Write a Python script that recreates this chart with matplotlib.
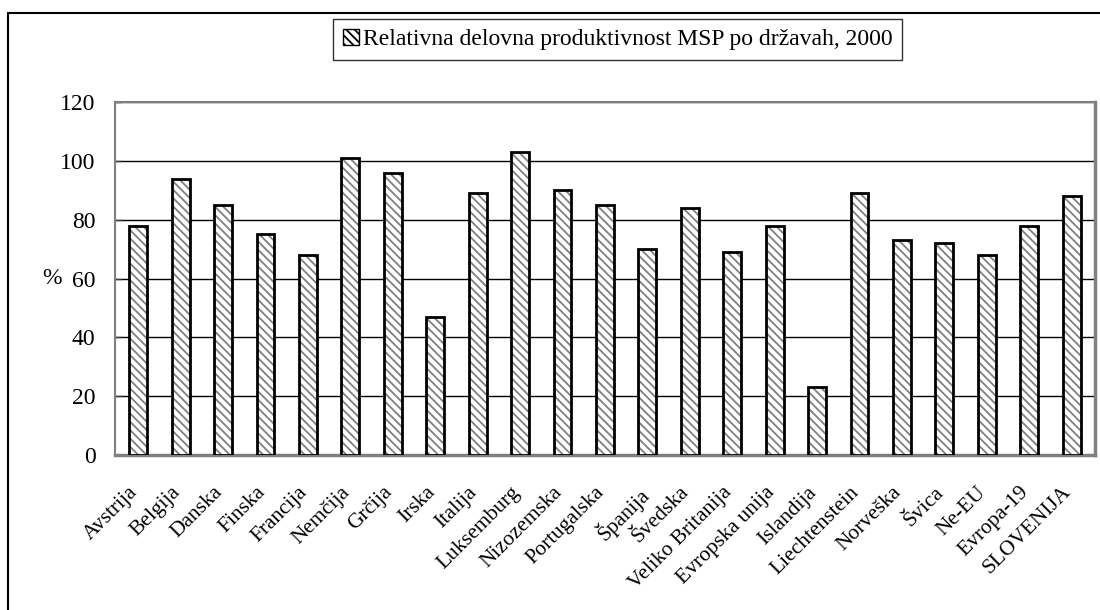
import matplotlib
matplotlib.use('Agg')
import matplotlib.pyplot as plt
import matplotlib.transforms as mtransforms
from matplotlib.patches import Patch, Rectangle

plt.rcParams['font.family'] = ['Liberation Serif', 'DejaVu Serif']
plt.rcParams['hatch.linewidth'] = 1.3
plt.rcParams['hatch.color'] = '#808080'

# Podatki
drzave = ['Avstrija', 'Belgija', 'Danska', 'Finska', 'Francija', 'Nemčija', 'Grčija',
          'Irska', 'Italija', 'Luksemburg', 'Nizozemska', 'Portugalska', 'Španija',
          'Švedska', 'Veliko Britanija', 'Evropska unija', 'Islandija', 'Liechtenstein',
          'Norveška', 'Švica', 'Ne-EU', 'Evropa-19', 'SLOVENIJA']
produktivnost = [78, 94, 85, 75, 68, 101, 96, 47, 89, 103, 90, 85, 70, 84, 69, 78,
                 23, 89, 73, 72, 68, 78, 88]
y_ticks = [0, 20, 40, 60, 80, 100, 120]
naslov = 'Relativna delovna produktivnost MSP po državah, 2000'

fig = plt.figure(figsize=(11, 6.1), dpi=100)
ax = fig.add_axes([0.1045, 0.254, 0.8909, 0.5787])

x = range(len(drzave))
# polnilo s srafuro (sivo), nato crn rob
ax.bar(x, produktivnost, width=0.42, color='white', edgecolor='#808080',
       hatch='\\\\\\\\', linewidth=0, zorder=3)
ax.bar(x, produktivnost, width=0.42, fill=False, edgecolor='black',
       linewidth=2, zorder=4)

ax.set_xlim(-0.55, len(drzave) - 0.45)
ax.set_ylim(0, 120)
ax.set_yticks(y_ticks)
ax.yaxis.grid(True, color='black', linewidth=1)
ax.set_axisbelow(True)
ax.tick_params(axis='y', length=4, direction='in', color='#404040', width=1,
               labelsize=17, pad=14)
ax.tick_params(axis='x', length=0, labelsize=15.5, pad=20)
ax.set_xticks(list(x))
ax.set_xticklabels(drzave, rotation=45, ha='right', rotation_mode='anchor')
premik = mtransforms.ScaledTranslation(-10 / 100, 0, fig.dpi_scale_trans)
for lbl in ax.get_xticklabels():
    lbl.set_transform(lbl.get_transform() + premik)
ax.set_ylabel('%', rotation=0, fontsize=17, labelpad=6, va='center')

for s in ['left', 'top']:
    ax.spines[s].set_color('#808080')
    ax.spines[s].set_linewidth(1.5)
for s in ['right', 'bottom']:
    ax.spines[s].set_color('#808080')
    ax.spines[s].set_linewidth(2.5)

# legenda
handle = Patch(facecolor='white', edgecolor='black', hatch='\\\\\\\\', linewidth=1)
leg = fig.legend([handle], [naslov], loc='center', bbox_to_anchor=(0.5614, 0.935),
                 fontsize=17, frameon=True, fancybox=False, handlelength=0.7,
                 handleheight=0.7, handletextpad=0.15, borderpad=0.4,
                 borderaxespad=0)
leg.get_frame().set_edgecolor('black')
leg.get_frame().set_linewidth(1)

# zunanji okvir
fig.patches.append(Rectangle((8 / 1100, -0.1), 1.2, (610 - 13) / 610 + 0.1,
                             transform=fig.transFigure, fill=False,
                             edgecolor='black', linewidth=1.5))

fig.savefig('out.png', dpi=100)
